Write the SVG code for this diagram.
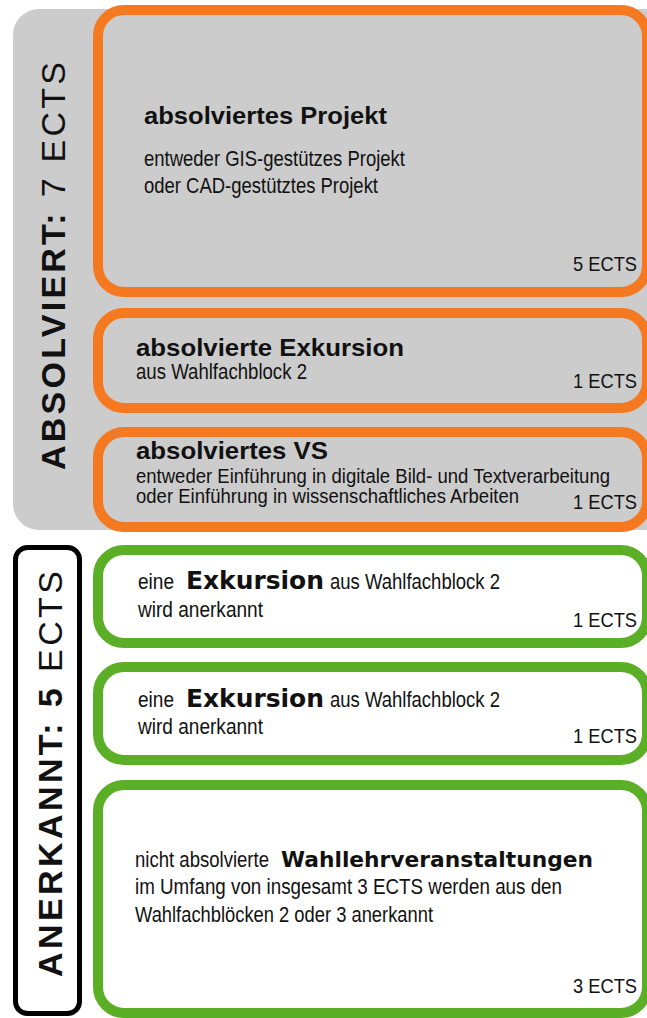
<svg xmlns="http://www.w3.org/2000/svg" width="647" height="1018" viewBox="0 0 647 1018">
<style>
.o{fill:#cccccc;stroke:#f47920;stroke-width:10}
.g{fill:#ffffff;stroke:#5aaf26;stroke-width:10}
.t{font-family:"Liberation Sans",Arial,sans-serif;fill:#111111}
.n{font-size:22px}
.s{font-size:20px}
.h{font-size:24px;font-weight:bold}
.x{font-family:"DejaVu Sans",Verdana,sans-serif;font-weight:bold;fill:#111111}
.v{font-family:"Liberation Sans",Arial,sans-serif;font-size:34px;fill:#111111}
.e{font-family:"Liberation Sans",Arial,sans-serif;font-size:21px;fill:#111111;text-anchor:end}
</style>
<rect width="647" height="1018" fill="#ffffff"/>
<g id="panel-absolviert">
<rect x="13" y="9" width="700" height="521" rx="26" fill="#cccccc"/>
<text class="v" transform="translate(64.5,470) rotate(-90)" textLength="408" lengthAdjust="spacing"><tspan font-weight="bold">ABSOLVIERT:</tspan> 7 ECTS</text>
</g>
<g id="panel-anerkannt">
<rect x="15.5" y="547.5" width="64" height="466" rx="12" fill="#ffffff" stroke="#000000" stroke-width="5"/>
<text class="v" transform="translate(61.5,977) rotate(-90)" textLength="406" lengthAdjust="spacing"><tspan font-weight="bold">ANERKANNT: 5</tspan> ECTS</text>
</g>
<g id="projekt">
<rect class="o" x="98" y="10" width="549" height="282" rx="26"/>
<text class="t h" x="144" y="124" textLength="243" lengthAdjust="spacingAndGlyphs">absolviertes Projekt</text>
<text class="t n" x="144" y="166" textLength="261" lengthAdjust="spacingAndGlyphs">entweder GIS-gestützes Projekt</text>
<text class="t n" x="144" y="193" textLength="234" lengthAdjust="spacingAndGlyphs">oder CAD-gestütztes Projekt</text>
<text class="e" x="637" y="271" textLength="64" lengthAdjust="spacingAndGlyphs">5 ECTS</text>
</g>
<g id="exkursion-absolviert">
<rect class="o" x="98" y="313" width="549" height="95" rx="26"/>
<text class="t h" x="136" y="356" textLength="268" lengthAdjust="spacingAndGlyphs">absolvierte Exkursion</text>
<text class="t n" x="136" y="379" textLength="171" lengthAdjust="spacingAndGlyphs">aus Wahlfachblock 2</text>
<text class="e" x="637" y="388" textLength="64" lengthAdjust="spacingAndGlyphs">1 ECTS</text>
</g>
<g id="vs-absolviert">
<rect class="o" x="98" y="432" width="549" height="95" rx="26"/>
<text class="t h" x="136" y="459" textLength="192" lengthAdjust="spacingAndGlyphs">absolviertes VS</text>
<text class="t s" x="136" y="483" textLength="474" lengthAdjust="spacingAndGlyphs">entweder Einführung in digitale Bild- und Textverarbeitung</text>
<text class="t s" x="136" y="503" textLength="383" lengthAdjust="spacingAndGlyphs">oder Einführung in wissenschaftliches Arbeiten</text>
<text class="e" x="637" y="509" textLength="64" lengthAdjust="spacingAndGlyphs">1 ECTS</text>
</g>
<g id="exkursion-anerkannt-1">
<rect class="g" x="98" y="550" width="549" height="93" rx="26"/>
<text class="t n" x="138" y="589" textLength="36" lengthAdjust="spacingAndGlyphs">eine</text>
<text class="x" x="186" y="589" font-size="24" textLength="138" lengthAdjust="spacingAndGlyphs">Exkursion</text>
<text class="t n" x="330" y="589" textLength="170" lengthAdjust="spacingAndGlyphs">aus Wahlfachblock 2</text>
<text class="t n" x="138" y="617" textLength="125" lengthAdjust="spacingAndGlyphs">wird anerkannt</text>
<text class="e" x="637" y="627" textLength="64" lengthAdjust="spacingAndGlyphs">1 ECTS</text>
</g>
<g id="exkursion-anerkannt-2">
<rect class="g" x="98" y="667" width="549" height="93" rx="26"/>
<text class="t n" x="138" y="707" textLength="36" lengthAdjust="spacingAndGlyphs">eine</text>
<text class="x" x="186" y="707" font-size="24" textLength="138" lengthAdjust="spacingAndGlyphs">Exkursion</text>
<text class="t n" x="330" y="707" textLength="170" lengthAdjust="spacingAndGlyphs">aus Wahlfachblock 2</text>
<text class="t n" x="138" y="734" textLength="125" lengthAdjust="spacingAndGlyphs">wird anerkannt</text>
<text class="e" x="637" y="743" textLength="64" lengthAdjust="spacingAndGlyphs">1 ECTS</text>
</g>
<g id="wahllehrveranstaltungen">
<rect class="g" x="98" y="785" width="549" height="228" rx="26"/>
<text class="t n" x="135" y="867" textLength="134" lengthAdjust="spacingAndGlyphs">nicht absolvierte</text>
<text class="x" x="281" y="867" font-size="22" textLength="312" lengthAdjust="spacingAndGlyphs">Wahllehrveranstaltungen</text>
<text class="t n" x="135" y="894" textLength="427" lengthAdjust="spacingAndGlyphs">im Umfang von insgesamt 3 ECTS werden aus den</text>
<text class="t n" x="135" y="922" textLength="298" lengthAdjust="spacingAndGlyphs">Wahlfachblöcken 2 oder 3 anerkannt</text>
<text class="e" x="637" y="993" textLength="64" lengthAdjust="spacingAndGlyphs">3 ECTS</text>
</g>
<g id="connectors"></g>
</svg>
